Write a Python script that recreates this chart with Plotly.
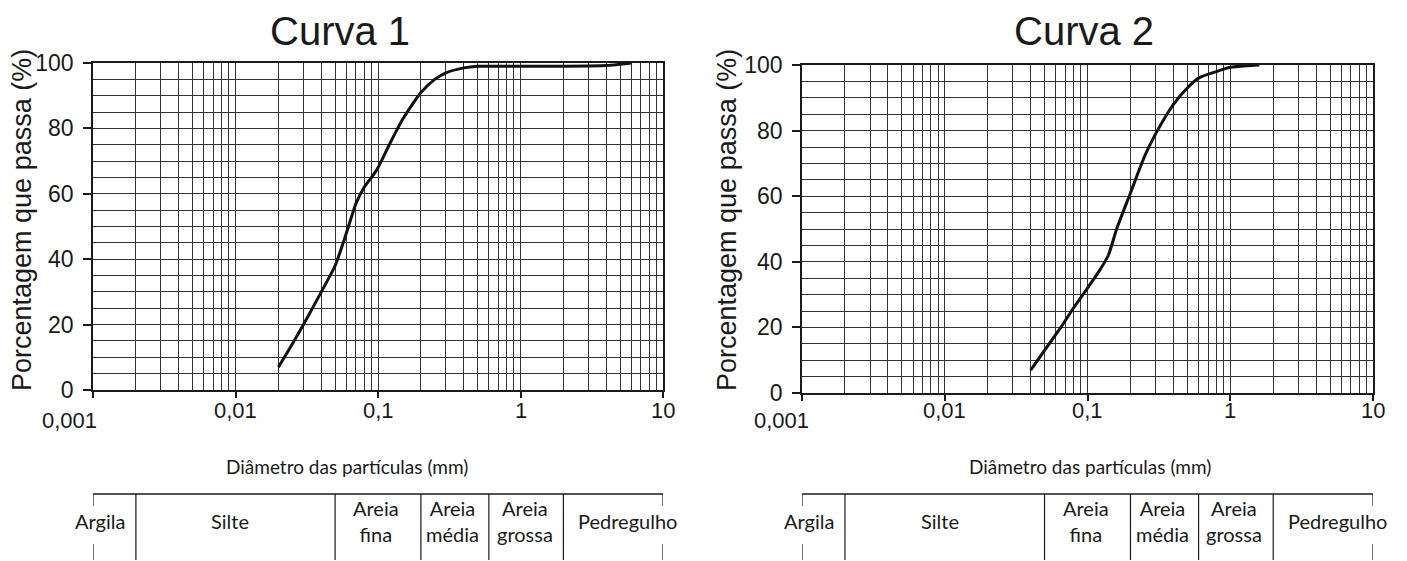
import math
import plotly.graph_objects as go

# ---------------- data ----------------
titles = ["Curva 1", "Curva 2"]

d1 = [0.02, 0.025, 0.03, 0.04, 0.05, 0.06, 0.07, 0.08, 0.09, 0.1, 0.12, 0.15,
      0.2, 0.25, 0.3, 0.4, 0.5, 0.7, 1, 2, 4, 6]
p1 = [7, 14, 20, 30, 38, 48, 57, 62, 65, 68, 75, 83,
      91, 95, 97, 98.5, 99, 99, 99, 99, 99.2, 100]

d2 = [0.04, 0.05, 0.065, 0.08, 0.1, 0.12, 0.14, 0.16, 0.2, 0.25, 0.3, 0.4,
      0.5, 0.6, 0.8, 1.0, 1.3, 1.6]
p2 = [7, 13, 20, 26, 32, 37, 42, 50, 61, 72, 79, 88,
      93, 96, 98, 99.3, 99.8, 100]

x_tick_vals = [0.001, 0.01, 0.1, 1, 10]
x_tick_text = ["0,001", "0,01", "0,1", "1", "10"]
y_tick_vals = [0, 20, 40, 60, 80, 100]

class_bounds = [0.001, 0.002, 0.05, 0.2, 0.6, 2, 10]
class_names = ["Argila", "Silte", "Areia<br>fina", "Areia<br>média",
               "Areia<br>grossa", "Pedregulho"]
class_label_x = [0.00112, 0.0092, 0.097, 0.335, 1.07, 5.6]

x_title = "Diâmetro das partículas (mm)"
y_title = "Porcentagem que passa (%)"

# ---------------- layout helpers ----------------
W, H = 1407, 561
OFF = 8  # page body margin
def px(v):
    return (v - OFF) / W
def py(v):
    return 1 - (v - OFF) / H

INK = "#1a1a1a"
GRID = "#333333"
minor_vals = [m * 10 ** e for e in range(-3, 1) for m in range(2, 10)]

fig = go.Figure()

panels = [
    dict(d=d1, p=p1, xa="x", ya="y", xd=(93, 663), yd=(390, 63), tx=340, yt=22, xt=347,
         s001=-24),
    dict(d=d2, p=p2, xa="x2", ya="y2", xd=(802, 1373), yd=(393, 65), tx=1084, yt=727, xt=1090,
         s001=-21),
]

def ann(text, xref, x, y, size, family="Lato", **kw):
    d = dict(text=text, xref=xref, yref="paper", x=x, y=y, showarrow=False,
             xanchor="center", yanchor="middle", borderpad=0,
             font=dict(family=family, size=size, color=INK))
    d.update(kw)
    return d

annotations = []
shapes = []
for i, pn in enumerate(panels):
    fig.add_trace(go.Scatter(
        x=pn["d"], y=pn["p"], mode="lines", xaxis=pn["xa"], yaxis=pn["ya"],
        line=dict(color="#111", width=3, shape="spline", smoothing=0.6),
        showlegend=False, hoverinfo="skip"))
    sfx = "" if i == 0 else str(i + 1)
    fig.layout["xaxis" + sfx] = dict(
        type="log", range=[-3, 1], domain=[px(pn["xd"][0]), px(pn["xd"][1])],
        anchor=pn["ya"], tickvals=x_tick_vals, showticklabels=False,
        ticks="outside", ticklen=6, tickcolor=INK, tickwidth=1.5,
        showgrid=True, gridcolor=GRID, gridwidth=1.4,
        showline=True, linecolor=INK, linewidth=1.6, mirror=True,
        minor=dict(tickvals=minor_vals, showgrid=True, gridcolor=GRID, gridwidth=1.4, ticks=""),
        zeroline=False, fixedrange=True)
    fig.layout["yaxis" + sfx] = dict(
        range=[0, 100], domain=[py(pn["yd"][0]), py(pn["yd"][1])],
        anchor=pn["xa"], tickvals=y_tick_vals,
        ticks="outside", ticklen=8, tickcolor=INK, tickwidth=1.5, ticklabelstandoff=5,
        tickfont=dict(family="Liberation Sans", size=23, color=INK),
        showgrid=True, gridcolor=GRID, gridwidth=1.4,
        showline=True, linecolor=INK, linewidth=1.6, mirror=True,
        minor=dict(dtick=5, showgrid=True, gridcolor=GRID, gridwidth=1.4, ticks=""),
        zeroline=False, fixedrange=True)

    # title
    annotations.append(ann(titles[i], "paper", px(pn["tx"]), py(31), 40, family="Liberation Sans"))
    # y-axis title
    annotations.append(ann(y_title, "paper", px(pn["yt"]), py(220), 27,
                           family="Liberation Sans", textangle=-90))
    # x tick labels
    for j, (v, t) in enumerate(zip(x_tick_vals, x_tick_text)):
        annotations.append(ann(t, pn["xa"], math.log10(v), py(420 if j == 0 else 410), 22,
                               family="Liberation Sans",
                               xshift=pn["s001"] if j == 0 else 0))
    # x-axis title
    annotations.append(ann(x_title, "paper", px(pn["xt"]), py(466), 19))
    # classification table
    top, bot = 494, 560
    shapes.append(dict(type="line", xref=pn["xa"], yref="paper",
                       x0=class_bounds[0], x1=class_bounds[-1], y0=py(top), y1=py(top),
                       line=dict(color=INK, width=1.5)))
    for b in class_bounds[1:-1]:
        shapes.append(dict(type="line", xref=pn["xa"], yref="paper",
                           x0=b, x1=b, y0=py(top), y1=py(bot),
                           line=dict(color=INK, width=1.2)))
    for b in (class_bounds[0], class_bounds[-1]):
        shapes.append(dict(type="line", xref=pn["xa"], yref="paper",
                           x0=b, x1=b, y0=py(top), y1=py(506),
                           line=dict(color=INK, width=1.2)))
        shapes.append(dict(type="line", xref=pn["xa"], yref="paper",
                           x0=b, x1=b, y0=py(544), y1=py(bot),
                           line=dict(color=INK, width=1.2)))
    for name, lx in zip(class_names, class_label_x):
        annotations.append(ann(name, pn["xa"], math.log10(lx), py(521), 20))

fig.update_layout(width=W, height=H, margin=dict(l=0, r=0, t=0, b=0, autoexpand=False),
                  paper_bgcolor="white", plot_bgcolor="white",
                  annotations=annotations, shapes=shapes, showlegend=False)

fig.write_html("out.html")
